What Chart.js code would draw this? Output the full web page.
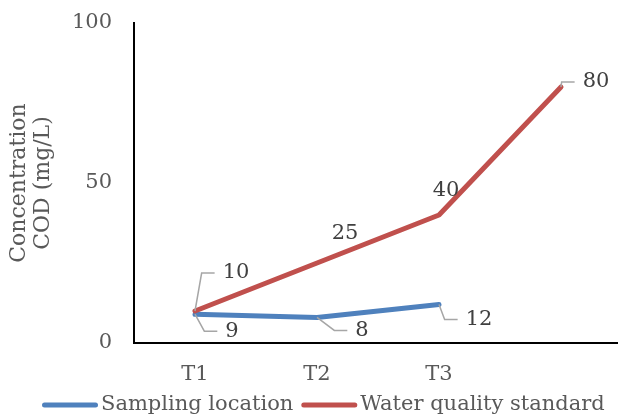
<!DOCTYPE html>
<html><head><meta charset="utf-8">
<script src="https://cdn.jsdelivr.net/npm/chart.js@4"></script>
<style>html,body{margin:0;padding:0;background:#fff;overflow:hidden}#wrap{width:618px;height:419px;overflow:hidden}</style>
</head><body><div id="wrap"><canvas id="c" width="622" height="419"></canvas></div>
<script>
// ---- data ----
const categories = ['T1', 'T2', 'T3', ''];
const samplingLocation = [9, 8, 12, null];
const waterQualityStandard = [10, 25, 40, 80];
const yTicks = [0, 50, 100];
const seriesNames = ['Sampling location', 'Water quality standard'];
const axisTitle = ['Concentration', 'COD (mg/L)'];

// ---- style ----
const FONT = '"DejaVu Serif", serif';
const TEXT = '#595959';
const BLUE = '#4F81BD';
const RED = '#C0504D';

// label placement (pixel offsets of label centre from its point), per dataset
const labelPlacement = [
  [{dx: 37, dy: 17, leader: true}, {dx: 45, dy: 13, leader: true}, {dx: 40, dy: 15, leader: true}],
  [{dx: 41, dy: -38, leader: true}, {dx: 28, dy: -29, leader: false}, {dx: 7, dy: -24, leader: false}, {dx: 35, dy: -5, leader: true}]
];

const dataLabels = {
  id: 'dataLabels',
  afterDatasetsDraw(chart) {
    const ctx = chart.ctx;
    ctx.save();
    ctx.font = '21px ' + FONT;
    ctx.textAlign = 'center';
    ctx.textBaseline = 'middle';
    chart.data.datasets.forEach((ds, di) => {
      const meta = chart.getDatasetMeta(di);
      meta.data.forEach((pt, i) => {
        const v = ds.data[i];
        if (v === null || v === undefined) return;
        const pl = labelPlacement[di][i];
        const lx = pt.x + pl.dx, ly = pt.y + pl.dy;
        const txt = String(v);
        const w = ctx.measureText(txt).width;
        if (pl.leader) {
          const end = lx - w / 2 - 8;
          const elbow = end - 13;
          ctx.strokeStyle = '#A6A6A6';
          ctx.lineWidth = 1.5;
          ctx.beginPath();
          ctx.moveTo(pt.x, pt.y);
          ctx.lineTo(elbow, ly);
          ctx.lineTo(end, ly);
          ctx.stroke();
        }
        ctx.fillStyle = '#404040';
        ctx.fillText(txt, lx, ly);
      });
    });
    ctx.restore();
  }
};

const customLegend = {
  id: 'customLegend',
  afterDraw(chart) {
    const ctx = chart.ctx;
    ctx.save();
    ctx.font = '21px ' + FONT;
    let x = 42; const y = 405;
    chart.data.datasets.forEach(ds => {
      ctx.strokeStyle = ds.borderColor; ctx.lineWidth = 5; ctx.lineCap = 'round';
      ctx.beginPath(); ctx.moveTo(x + 2.5, y); ctx.lineTo(x + 56 - 2.5, y); ctx.stroke();
      x += 56 + 3;
      ctx.fillStyle = TEXT; ctx.textBaseline = 'middle'; ctx.textAlign = 'left';
      ctx.fillText(ds.label, x, y);
      x += ctx.measureText(ds.label).width + 8;
    });
    ctx.restore();
  }
};

new Chart(document.getElementById('c'), {
  type: 'line',
  data: {
    labels: categories,
    datasets: [
      {label: seriesNames[0], data: samplingLocation, borderColor: BLUE, backgroundColor: BLUE,
       borderWidth: 5, pointRadius: 0, borderCapStyle: 'round', borderJoinStyle: 'round', order: 1, tension: 0},
      {label: seriesNames[1], data: waterQualityStandard, borderColor: RED, backgroundColor: RED,
       borderWidth: 5, pointRadius: 0, borderCapStyle: 'round', borderJoinStyle: 'round', order: 0, tension: 0}
    ]
  },
  options: {
    responsive: false,
    devicePixelRatio: 1,
    animation: false,
    layout: {padding: {top: 23, left: 0, right: 0, bottom: 30}},
    plugins: {legend: {display: false}, tooltip: {enabled: false}},
    scales: {
      x: {
        offset: true,
        grid: {display: false, drawTicks: false},
        border: {display: true, color: '#000', width: 2},
        ticks: {color: TEXT, font: {family: FONT, size: 21}, padding: 19, maxRotation: 0, autoSkip: false},
        afterFit: s => { s.height = 46; s.paddingLeft = 0; s.paddingRight = 0; }
      },
      y: {
        min: 0, max: 100,
        afterBuildTicks: s => { s.ticks = yTicks.map(v => ({value: v})); },
        grid: {display: false, drawTicks: false},
        border: {display: true, color: '#000', width: 2},
        ticks: {color: TEXT, font: {family: FONT, size: 21}, padding: 22},
        title: {display: true, text: axisTitle, color: TEXT, font: {family: FONT, size: 22, lineHeight: 1.1}, padding: {top: 7, bottom: 0}},
        afterFit: s => { s.width = 134; s.paddingTop = 0; s.paddingBottom = 0; }
      }
    }
  },
  plugins: [dataLabels, customLegend]
});
</script>
</body></html>
